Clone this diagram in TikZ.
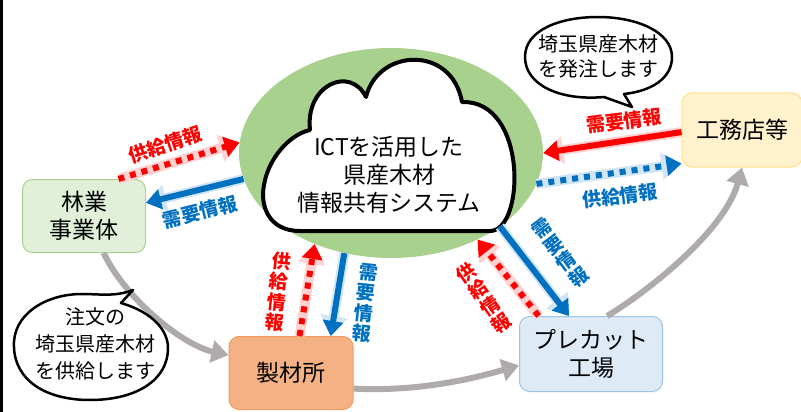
\documentclass[tikz,border=0pt]{standalone}
\usepackage{fontspec}
\setmainfont{Noto Sans CJK JP}
\usetikzlibrary{shapes.geometric,arrows.meta}

\definecolor{leafgreen}{HTML}{A9D18E}
\definecolor{forestfill}{HTML}{E2F0D9}
\definecolor{sawfill}{HTML}{F4B183}
\definecolor{sawline}{HTML}{F29A62}
\definecolor{precutfill}{HTML}{DEEBF7}
\definecolor{precutline}{HTML}{9DC3E6}
\definecolor{builderfill}{HTML}{FFF2CC}
\definecolor{builderline}{HTML}{FFE08A}
\definecolor{infoblue}{HTML}{0070C0}
\definecolor{infored}{HTML}{FF0000}
\definecolor{flowgray}{HTML}{AFABAB}

\begin{document}
\begin{tikzpicture}[
    x=1pt, y=-1pt,
    every node/.style={font=\fontsize{23}{28}\selectfont, align=center},
    box/.style={
        rectangle,
        rounded corners=10pt,
        draw,
        line width=1pt,
        minimum width=#1,
        minimum height=73pt,
        inner sep=0pt
    },
    flow/.style={
        draw=flowgray,
        line width=6pt,
        -{Triangle[width=22pt,length=17pt]}
    },
    demand/.style={
        draw=#1,
        line width=6pt,
        -{Triangle[width=20pt,length=15pt]},
        preaction={draw=#1!18, solid, line width=10pt, -{Triangle[width=26pt,length=20pt]}}
    },
    supply/.style={
        demand=#1,
        dash pattern=on 6pt off 6pt
    },
    infotext/.style={
        text=#1,
        font=\fontsize{19}{20.5}\selectfont\bfseries
    },
    bubble/.style={
        draw,
        line width=2.5pt,
        fill=white,
        line join=round
    }
]
\useasboundingbox (0,0) rectangle (801,412);

% Rahmen links
\draw[line width=2.5pt] (1.5,0) -- (1.5,412);

% System (Ellipse + Wolke)
\node[ellipse, fill=leafgreen, minimum width=304pt, minimum height=210pt, inner sep=0pt] (system) at (391,153) {};
\draw[line width=4pt, fill=white, line join=round]
    (300,231) .. controls (268,231) and (260,205) .. (264,185)
    .. controls (268,160) and (288,135) .. (310,130)
    .. controls (305,85) and (350,65) .. (366,97)
    .. controls (378,48) and (452,45) .. (462,102)
    .. controls (528,100) and (525,231) .. (490,231)
    -- cycle;
\node (systemtext) at (389,175) {ICTを活用した\\県産木材\\情報共有システム};

% Akteure
\node[box=123pt, fill=forestfill, draw=leafgreen] (forest) at (84,216) {林業\\事業体};
\node[box=124pt, fill=sawfill, draw=sawline] (sawmill) at (291,373) {製材所};
\node[box=143pt, minimum height=75pt, fill=precutfill, draw=precutline] (precut) at (591,354) {プレカット\\工場};
\node[box=120pt, minimum height=74pt, fill=builderfill, draw=builderline] (builder) at (742,130) {工務店等};

% Holzfluss
\draw[flow] (forest.298) .. controls (125,298) and (182,345) .. (sawmill.164);
\draw[flow] (sawmill.346) .. controls (420,392) and (475,378) .. (precut.189);
\draw[flow] (precut.67) .. controls (650,290) and (725,230) .. (builder.south);

% Informationsfluss
\draw[supply=infored] (forest.47) -- (system.176);
\draw[demand=infoblue] (system.190) -- (forest.12);
\node[infotext=infored, rotate=18] (forestsupply) at (165,145) {供給情報};
\node[infotext=infoblue, rotate=14] (forestdemand) at (200,212) {需要情報};

\draw[supply=infored] (sawmill.77) -- (system.230);
\draw[demand=infoblue] (system.245) -- (sawmill.43);
\node[infotext=infored, rotate=-6] (sawsupply) at (278,292) {供\\給\\情\\報};
\node[infotext=infoblue, rotate=-6] (sawdemand) at (365,303) {需\\要\\情\\報};

\draw[supply=infored] (precut.144) -- (system.315);
\draw[demand=infoblue] (system.326) -- (precut.120);
\node[infotext=infored, rotate=35] (precutsupply) at (484,298) {供\\給\\情\\報};
\node[infotext=infoblue, rotate=37] (precutdemand) at (560,253) {需\\要\\情\\報};

\draw[demand=infored] (builder.182) -- (system.east);
\draw[supply=infoblue] (system.348) -- (builder.209);
\node[infotext=infored, rotate=7] (builderdemand) at (624,121) {需要情報};
\node[infotext=infoblue, rotate=7] (buildersupply) at (620,196) {供給情報};

% Sprechblasen
\draw[bubble] (525,57) .. controls (525,30) and (560,17) .. (598,17)
    .. controls (637,17) and (672,32) .. (672,57)
    .. controls (672,78) and (652,91) .. (624,94)
    -- (632,107) -- (604,97)
    .. controls (560,101) and (525,85) .. (525,57) -- cycle;
\node[font=\fontsize{20}{25}\selectfont] (ordertext) at (598,56) {埼玉県産木材\\を発注します};

\draw[bubble] (14,347) .. controls (12,315) and (45,294) .. (82,294)
    .. controls (100,294) and (115,297) .. (133,290)
    -- (121,303)
    .. controls (152,312) and (168,330) .. (168,348)
    .. controls (168,381) and (135,400) .. (90,400)
    .. controls (45,400) and (15,380) .. (14,347) -- cycle;
\node[font=\fontsize{20}{27}\selectfont] (deliverytext) at (95,344) {注文の\\埼玉県産木材\\を供給します};

\end{tikzpicture}
\end{document}
